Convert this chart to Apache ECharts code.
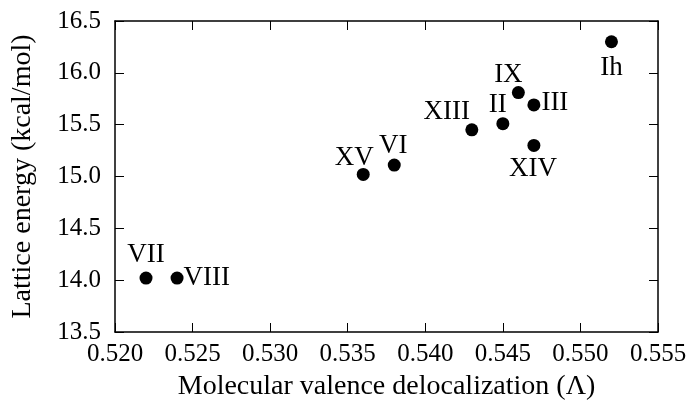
<!DOCTYPE html>
<html>
<head>
<meta charset="utf-8">
<script src="https://cdn.jsdelivr.net/npm/echarts@6/dist/echarts.min.js"></script>
<style>html,body{margin:0;padding:0;background:#fff;}#c{width:693px;height:406px;}</style>
</head>
<body>
<div id="c"></div>
<script>
// Data
const phases = ['Ih','IX','III','II','XIII','XIV','VI','XV','VII','VIII'];
const delocalization = [0.552,0.546,0.547,0.545,0.543,0.547,0.538,0.536,0.522,0.524];
const latticeEnergy = [16.30,15.81,15.69,15.51,15.45,15.30,15.11,15.02,14.02,14.02];
const xTicks = ['0.520','0.525','0.530','0.535','0.540','0.545','0.550','0.555'];
const yTicks = ['13.5','14.0','14.5','15.0','15.5','16.0','16.5'];

// Label placement (style only)
const labelPlace = {
  'Ih':  {position:'bottom', offset:[0,1]},
  'IX':  {position:'top', offset:[-10,7]},
  'III': {position:'right', offset:[-4,-2]},
  'II':  {position:'top', offset:[-5,6]},
  'XIII':{position:'top', offset:[-25,7]},
  'XIV': {position:'bottom', offset:[-1,-1]},
  'VI':  {position:'top', offset:[-1,6]},
  'XV':  {position:'top', offset:[-9,8]},
  'VII': {position:'top', offset:[0,2]},
  'VIII':{position:'right', offset:[-5,0]}
};

const FONT = '"Liberation Serif", serif';
const TICK_FS = 25;
const NAME_FS = 28;
const LABEL_FS = 27;

const data = phases.map((n,i)=>({
  name:n,
  value:[delocalization[i], latticeEnergy[i]],
  label:Object.assign({show:true, formatter:n}, labelPlace[n])
}));

const axisLine = {show:true, onZero:false, lineStyle:{color:'#000', width:1.5}};
const axisTick = {show:true, inside:true, length:9, lineStyle:{color:'#000', width:1}};

const chart = echarts.init(document.getElementById('c'), null, {renderer:'canvas'});
chart.setOption({
  animation:false,
  backgroundColor:'#fff',
  textStyle:{fontFamily:FONT},
  grid:{left:115, top:21, width:543, height:315, containLabel:false},
  xAxis:[{
    type:'value', min:0.520, max:0.555, interval:0.005,
    position:'bottom',
    name:'Molecular valence delocalization (\u039b)',
    nameLocation:'middle', nameGap:41,
    nameTextStyle:{fontFamily:FONT, fontSize:NAME_FS, color:'#000'},
    axisLine, axisTick,
    axisLabel:{fontFamily:FONT, fontSize:TICK_FS, color:'#000', margin:10,
      formatter:(v)=>{const i=Math.round((v-0.520)/0.005); return xTicks[i]||'';}},
    splitLine:{show:false}
  },{
    type:'value', min:0.520, max:0.555, interval:0.005,
    position:'top', axisLine, axisTick, axisLabel:{show:false}, splitLine:{show:false}
  }],
  yAxis:[{
    type:'value', min:13.5, max:16.5, interval:0.5,
    position:'left',
    name:'Lattice energy (kcal/mol)',
    nameLocation:'middle', nameGap:78,
    nameTextStyle:{fontFamily:FONT, fontSize:NAME_FS, color:'#000'},
    axisLine, axisTick,
    axisLabel:{fontFamily:FONT, fontSize:TICK_FS, color:'#000', margin:14,
      formatter:(v)=>{const i=Math.round((v-13.5)/0.5); return yTicks[i]||'';}},
    splitLine:{show:false}
  },{
    type:'value', min:13.5, max:16.5, interval:0.5,
    position:'right', axisLine, axisTick, axisLabel:{show:false}, splitLine:{show:false}
  }],
  series:[{
    type:'scatter',
    xAxisIndex:0, yAxisIndex:0,
    symbol:'circle', symbolSize:13,
    itemStyle:{color:'#000', opacity:1},
    label:{show:true, fontFamily:FONT, fontSize:LABEL_FS, color:'#000', distance:5},
    data:data
  }]
});
</script>
</body>
</html>
